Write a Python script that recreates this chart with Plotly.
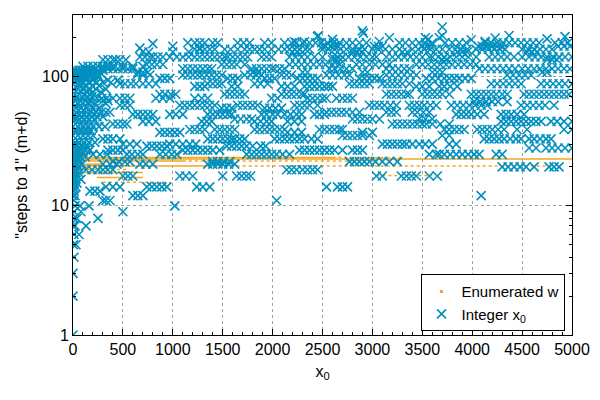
import plotly.graph_objects as go

# steps-to-1 for integer starting values
# (each row = one "steps" level, x values where the crosses sit)
r183 = [1220, 1270, 1320, 1400, 1450, 1650, 1710, 1770, 1920, 1990, 2120, 2190, 2240, 2300,
        2370, 2430, 2490, 2550, 2610, 2670, 2740, 2800, 2870, 2940, 3270, 3330, 3400, 3470,
        3530, 3600, 3730, 3800, 3870, 3940, 4130, 4190, 4250, 4310, 4370, 4430, 4490, 4550,
        4610, 4670, 4830, 4900, 4960]
r172 = [2500, 2530, 2580, 2620, 2660, 3020, 3060, 3100, 3500, 3540, 3580, 4060, 4100, 4150,
        4200, 4250, 4290, 4860, 4920, 4980]
r163 = [1220, 1270, 1320, 1370, 1420, 1520, 1580, 1650, 1720, 1770, 1820, 1870, 1920, 1990,
        2060, 2120, 2170, 2220, 2270, 2330, 2370, 2500, 2560, 2620, 2680, 2740, 2800, 2860,
        2920, 3000, 3060, 3130, 3200, 3270, 3400, 3460, 3520, 3580, 3640, 3700, 3770, 3830,
        3890, 3950, 4040, 4100, 4160, 4220, 4280, 4330, 4500, 4560, 4620, 4680, 4740, 4800]
r155 = [700, 760, 1000, 1160, 2200, 2250, 2300, 2800, 2850, 2900, 3300, 3350, 3850, 3900,
        3950, 4550, 4600, 4650]
r142 = [670, 720, 770, 800, 850, 900, 970, 1040, 1100, 1160, 1220, 1270, 1320, 1370, 1420,
        1470, 1520, 1550, 1600, 1650, 1700, 1750, 1890, 1940, 1990, 2170, 2230, 2290, 2350,
        2420, 2500, 2600, 2650, 2700, 2760, 2820, 2880, 2940, 3000, 3040, 3140, 3200, 3260,
        3320, 3380, 3440, 3500, 3570, 3600, 3660, 3720, 3780, 3840, 3900, 3960, 4040, 4170,
        4230, 4290, 4350, 4420, 4500, 4570, 4630, 4690, 4750, 4810, 4870, 4930, 5000]
r135 = [300, 350, 400, 430, 470, 530, 2600, 2640, 2680, 3700, 3740, 4750, 4800, 4850]
r124 = [740, 790, 840, 900, 1490, 1540, 1590, 1640, 1720, 2170, 2230, 2290, 2350, 2410, 2470,
        2530, 2600, 2670, 2840, 2900, 2970, 3030, 3100, 3170, 3440, 3500, 3560, 3620, 3680,
        3740, 3800, 3860, 3920, 3980, 4040]
r115 = [300, 350, 400, 450, 500, 550, 600, 1100, 1150, 1200, 1250, 1300, 1350, 1390, 1790,
        1840, 1890, 1940, 1990, 2020, 2070, 2120, 2570, 2620, 2680, 2740, 2800, 3140, 3200,
        3260, 3320, 3370, 4070, 4130, 4190, 4250, 4310, 4370, 4430, 4500, 4560, 4620, 4680,
        4740, 4800, 4860, 4920, 4980]
r108 = [650, 700, 750, 1800, 1850, 2300, 2350, 2900, 2950, 3600, 3650, 3700, 4700, 4750]
r103 = [640, 700, 770, 1100, 1150, 1200, 1250, 1290, 1340, 1390, 1440, 1490, 1720, 1780, 1840,
        1890, 2090, 2140, 2190, 2540, 2600, 2660, 2720, 2770, 3140, 3200, 3260, 3320, 3380,
        3440, 4350, 4410, 4470, 4530, 4590]
r97 = [870, 920, 970, 1550, 1600, 1650, 1920, 1970, 2020, 2250, 2300, 2350, 2400, 2450, 2870,
       2920, 2970, 3020, 3070, 3540, 3600, 3660, 3720, 3770, 3820, 3870, 3930, 3990]
r88 = [470, 520, 580, 630, 700, 760, 830, 1350, 1400, 1450, 1490, 1820, 1880, 1950, 2770, 2820,
       2870, 2920, 2970, 3100, 3150, 3200, 3250, 3300, 3370, 4190, 4250, 4310, 4370, 4430,
       4490, 4690, 4750, 4810, 4870, 4930, 5000]
r84 = [1220, 1270, 1320, 1590, 1650, 2090, 2150, 2220, 2320, 2370, 2420, 2470, 2520, 2560,
       2600, 3440, 3500, 3570, 3670, 3720, 3780, 3850]
r73 = [870, 920, 980, 1030, 1520, 1570, 1620, 1670, 1720, 2090, 2140, 2190, 2240, 2290, 2320,
       3140, 3190, 3240, 3290, 3340, 3370, 3500, 3550, 3600, 3650, 3700, 3770, 3990, 4040,
       4090, 4140, 4190, 4240, 4300, 4350, 4520, 4570, 4620, 4670, 4720, 4770, 4820, 4870,
       4920, 4970]
r68 = [240, 290, 340, 400, 470, 520, 570, 830, 900, 970, 1220, 1290, 1350, 1990, 2050, 2350,
       2400, 2450, 2500, 2540, 2640, 2700, 2750, 2800]
r64 = [4020, 4080, 4140, 4200, 4260, 4350]
r60 = [470, 520, 570, 1070, 1120, 1170, 1220, 1270, 1320, 1370, 1420, 1650, 1700, 1750, 1800,
       1850, 2220, 2270, 2320, 2370, 2450, 2970, 3020, 3070, 3120, 3180, 3240, 3370, 3420,
       3470, 3520, 3580, 3640, 3790, 3850, 3910, 3970, 4030, 4090, 4150, 4490, 4550, 4610,
       4670, 4730, 4820]
r57 = [1490, 1540, 1590, 1920, 1970, 2030, 2090]
r53 = [30, 80, 130, 180, 230, 280, 330, 370, 2540, 2590, 2640, 2690, 2740, 2800, 2870, 3140,
       3190, 3240, 3400, 3450, 3510, 3570]
r51 = [600, 650, 700, 750, 800, 970, 1030, 1100, 1350, 1400, 1450, 1500, 1550, 1590, 1890,
       1940, 2000, 2050, 2120, 2180, 2240, 2290, 2420, 2470, 2520, 3840, 3890, 3940, 3990,
       4050, 4120, 4290, 4340, 4390, 4450, 4520]
r47 = [1620, 1680, 1740, 1790, 2800, 2850, 2900, 2950, 3000, 3070, 3470, 3530, 3600]
r45 = [700, 760, 830, 1290, 1340, 1390, 1820, 1880, 1940, 1990, 2150, 2220, 2290, 4290, 4340,
       4390, 4440, 4490, 4540, 4590, 4640, 4690, 4790, 4850, 4920, 5000]
r43 = [400, 450, 500, 540, 3200, 3250, 3300, 3350, 3400, 3450, 3500, 3540, 3600, 3680, 3770]
r39 = [1170, 1220, 1270, 1320, 1420, 1470, 1520, 1570, 1620, 1820, 1870, 1920, 1970, 2020,
       2070, 2120, 2470, 2520, 2570, 2620, 2670, 2700, 3720, 3770, 3820, 3870, 3920, 4050,
       4100, 4150, 4200, 4260, 4320, 4450, 4550, 4920, 5000]
r37 = [870, 920, 970, 1020, 1070, 2150, 2220, 2290, 2900, 3000]
r35 = [2700, 2750, 2800, 2850, 2900, 2970, 3700, 3770]
r33 = [300, 350, 400, 470, 1350, 1400, 1450, 1500, 1550, 1590, 1620, 1670, 1720, 2020, 2070,
       2120, 2170, 2220, 2270, 2320, 2390, 2450, 4120, 4170, 4220, 4270, 4320, 4380, 4440,
       4490, 4570, 4620, 4680, 4740, 4790]
r30 = [500, 570, 640, 970, 1030, 1100, 1170, 1230, 3100, 3150, 3200, 3250, 3300, 3340, 3400,
       3470, 3530, 3600, 3770, 3840]
r29 = [740, 790, 840, 890, 940, 1540, 1590, 1640, 1690, 1740, 1800, 1880, 1930]
r28 = [4570, 4640, 4740, 4800, 4860, 4930, 5000]
r27 = [0, 40, 80, 130, 170, 350, 400, 450, 500, 1100, 1150, 1200, 1250, 1300, 1350, 1400,
       1470, 2270, 2320, 2370, 2420, 2470, 2520, 2570, 2620, 2700, 2800, 2850, 2900]
r25 = [200, 270, 340, 540, 590, 650, 700, 870, 930, 990, 1040, 1740, 1790, 1840, 1890, 1940,
       1990, 2040, 2100, 2170, 3570, 3640, 3670, 3720, 3780, 3840, 3900, 3960, 4020, 4070,
       4240, 4300]
r22 = [400, 460, 520, 570, 1400, 1450, 1510, 1570, 2770, 2820, 2870, 2920, 2970, 3030, 3100,
       3170, 3250]
r21 = [300, 370, 440, 670, 730, 800, 1350, 1400, 1450, 1500, 1560, 1620]
r20 = [4300, 4360, 4420, 4480, 4540, 4620, 4770, 4820, 4870]
r19 = [130, 190, 250, 300, 350, 400, 2140, 2190, 2240, 2300, 2350, 2400, 2450]
r17 = [500, 550, 600, 1070, 1130, 1200, 1500, 1640, 1690, 1740, 1780, 3040, 3100, 3290, 3340,
       3390, 3440, 3570, 3650]
r14 = [330, 400, 470, 740, 790, 840, 890, 940, 1240, 1300, 1370, 2540, 2650, 2700, 2750]
r13 = [170, 220, 270]
r12 = [600, 650, 700, 4090]
r11 = [300, 330, 370, 2040]
r10 = [20, 70, 160, 1020]
r9 = [10, 80, 500]
r8 = [10, 40, 250]
r7 = [0, 20, 130]
r6 = [10, 60]
r5 = [5, 30]
r4 = [10]
r3 = [0]
r2 = [0]
r1 = [0]

# crowded small-x corner (x0 < 800)
left_120 = [100, 150, 200, 250, 300, 350, 400, 500, 600, 700]
left_112 = [0, 30, 60, 90, 120, 150, 180, 210, 250, 300]
left_106 = [0, 20, 40, 60, 80, 100, 130, 160, 200, 240, 280]
left_100 = [0, 20, 40, 70, 100, 130, 170, 210, 260]
left_94 = [0, 40, 80, 130, 200, 350, 450]
left_90 = [20, 60, 110, 170, 240, 300, 380]
left_85 = [60, 120, 190, 260]
left_80 = [10, 50, 100, 160, 230, 330]
left_76 = [80, 150, 200, 280]
left_70 = [0, 40, 90, 140, 190]
left_65 = [20, 70, 120, 170, 300, 350]
left_62 = [0, 50, 100, 160, 220, 330]
left_57 = [30, 80, 140, 200, 260]
left_49 = [0, 40, 90, 140, 190, 240, 300]
left_46 = [20, 60, 110, 160, 220]
left_41 = [0, 50, 100, 150, 200, 260, 320]
left_38 = [30, 80, 130, 180]
left_35 = [0, 50, 100, 150, 200]
left_31 = [20, 60, 110, 160, 220]
left_29 = [0, 40, 90, 140]
left_26 = [10, 50, 100]
left_24 = [0, 30, 70, 120]
left_23 = [20, 60]
left_21 = [0, 40, 90]
left_20 = [10, 50]
left_18 = [0, 30, 60]
left_17 = [10, 40]
left_16 = [0, 20, 80]
left_15 = [10, 40]
left_14 = [0, 30]
left_13 = [10]
left_12 = [0, 20]
left_11 = [10]

# isolated high points
top_x = [2460, 2910, 3700, 3700, 2220, 2320, 2600, 3070, 3170, 3560, 3990, 4130, 4230, 4370,
         4750, 4930, 2900, 3530, 3670, 2450, 670, 800, 1000, 1150, 1270]
top_y = [207, 217, 242, 207, 186, 186, 194, 187, 200, 194, 193, 188, 199, 208, 196, 204, 226,
         200, 200, 205, 166, 180, 172, 183, 166]

levels = [
    (183, r183), (172, r172), (163, r163), (155, r155), (142, r142), (135, r135), (124, r124),
    (115, r115), (108, r108), (103, r103), (97, r97), (88, r88), (84, r84), (73, r73),
    (68, r68), (64, r64), (60, r60), (57, r57), (53, r53), (51, r51), (47, r47), (45, r45),
    (43, r43), (39, r39), (37, r37), (35, r35), (33, r33), (30, r30), (29, r29), (28, r28),
    (27, r27), (25, r25), (22, r22), (21, r21), (20, r20), (19, r19), (17, r17), (14, r14),
    (13, r13), (12, r12), (11, r11), (10, r10), (9, r9), (8, r8), (7, r7), (6, r6), (5, r5),
    (4, r4), (3, r3), (2, r2), (1, r1),
    (120, left_120), (112, left_112), (106, left_106), (100, left_100), (94, left_94),
    (90, left_90), (85, left_85), (80, left_80), (76, left_76), (70, left_70), (65, left_65),
    (62, left_62), (57, left_57), (49, left_49), (46, left_46), (41, left_41), (38, left_38),
    (35, left_35), (31, left_31), (29, left_29), (26, left_26), (24, left_24), (23, left_23),
    (21, left_21), (20, left_20), (18, left_18), (17, left_17), (16, left_16), (15, left_15),
    (14, left_14), (13, left_13), (12, left_12), (11, left_11),
]

# enumerated w: horizontal runs (level, x start, x end)
solid_y = [23.7, 23.0, 22.2, 20.3, 21.0, 18.1, 16.6, 26.0, 19.1]
solid_x0 = [0, 0, 0, 0, 0, 0, 240, 0, 0]
solid_x1 = [2600, 5000, 1100, 1400, 300, 700, 700, 240, 200]
dot_y = [23.7, 22.2, 20.3, 19.1, 15.2, 17.2]
dot_x0 = [2600, 1100, 1400, 200, 300, 3040]
dot_x1 = [3300, 3100, 4800, 540, 970, 3600]

BLUE = "#0090c0"
ORANGE = "#f5a623"

bx, by = [], []
for y, xs in levels:
    bx += xs
    by += [y] * len(xs)
bx += top_x
by += top_y


def runs(ys, x0s, x1s):
    xs, yy = [], []
    for y, a, b in zip(ys, x0s, x1s):
        xs += [a, b, None]
        yy += [y, y, None]
    return xs, yy


sx, sy = runs(solid_y, solid_x0, solid_x1)
dx, dy = runs(dot_y, dot_x0, dot_x1)

fig = go.Figure()
fig.add_trace(go.Scatter(x=sx, y=sy, mode="lines", line=dict(color=ORANGE, width=1.5),
                         showlegend=False, hoverinfo="skip"))
fig.add_trace(go.Scatter(x=dx, y=dy, mode="lines", line=dict(color=ORANGE, width=1.5, dash="dot"),
                         showlegend=False, hoverinfo="skip"))
fig.add_trace(go.Scatter(x=[None], y=[None], mode="markers", name="Enumerated w",
                         marker=dict(color=ORANGE, size=3, symbol="square")))
fig.add_trace(go.Scatter(x=bx, y=by, mode="markers", name="Integer x<sub>0</sub>",
                         marker=dict(symbol="x-thin", size=9, line=dict(color=BLUE, width=1.6))))

axis_common = dict(
    showline=True, linecolor="black", linewidth=1, mirror="ticks",
    ticks="inside", ticklen=6, tickcolor="black", automargin=False,
    showgrid=True, gridcolor="#a0a0a0", griddash="dot", gridwidth=1,
    zeroline=False, tickfont=dict(size=16, color="black"),
)
fig.update_xaxes(range=[0, 5000], dtick=500, tick0=0,
                 minor=dict(dtick=100, ticks="inside", ticklen=3, tickcolor="black", showgrid=False),
                 title=dict(text="x<sub>0</sub>", font=dict(size=16), standoff=8), **axis_common)
fig.update_yaxes(type="log", range=[0, 2.477], dtick=1,
                 minor=dict(dtick="D1", ticks="inside", ticklen=3, tickcolor="black", showgrid=False),
                 title=dict(text='"steps to 1" (m+d)', font=dict(size=16), standoff=10), **axis_common)

# the page adds an 8px body margin, so the figure margins are trimmed by that amount
fig.update_layout(
    width=600, height=400,
    margin=dict(l=65, r=36, t=7, b=73),
    plot_bgcolor="white", paper_bgcolor="white",
    font=dict(family="Liberation Sans, Arial, sans-serif", color="black"),
    legend=dict(x=0.985, y=0.012, xanchor="right", yanchor="bottom",
                bordercolor="black", borderwidth=1, bgcolor="white",
                font=dict(size=15), tracegroupgap=0, itemwidth=30),
)

fig.write_html("out.html")
